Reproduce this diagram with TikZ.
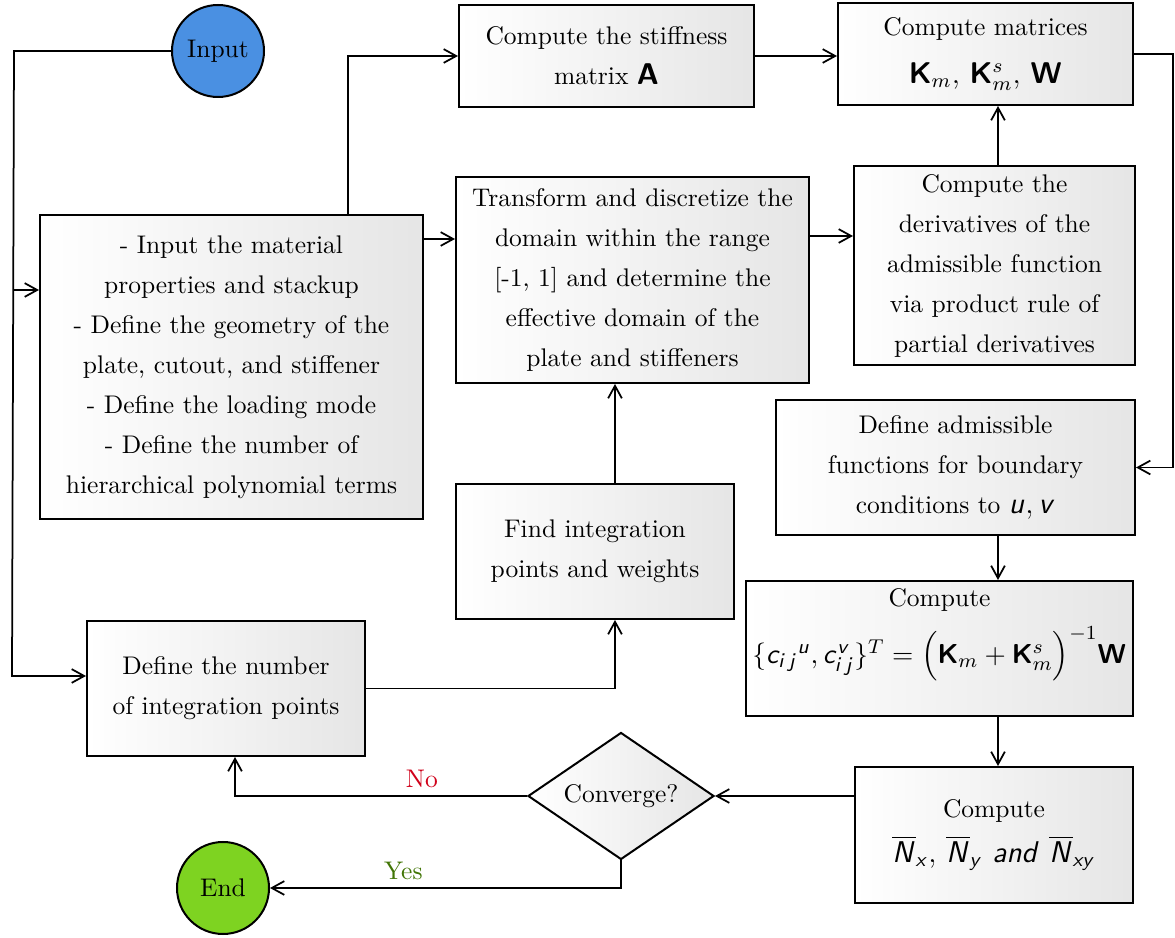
\documentclass[tikz,border=0pt]{standalone}
\usepackage{amsmath,amssymb}
\usepackage{xcolor}
\usepackage{tikz}
\usetikzlibrary{shapes.geometric, arrows.meta, positioning, calc}
\DeclareMathAlphabet{\mathsfit}{OT1}{cmss}{m}{sl}
\DeclareMathAlphabet{\mathsfbf}{OT1}{cmss}{bx}{n}
\definecolor{inblue}{HTML}{4A90E2}
\definecolor{endgreen}{HTML}{7ED321}
\definecolor{nored}{HTML}{D0021B}
\definecolor{yesgreen}{HTML}{417505}
\tikzset{
    process/.style={
        rectangle,
        draw=black,
        thick,
        left color=white,
        right color=gray!20,
        align=center,
        inner sep=2pt,
        font=\fontsize{10.2}{16}\selectfont
    },
    terminal/.style={
        circle,
        draw=black,
        thick,
        minimum size=36.8pt,
        inner sep=0pt,
        font=\fontsize{10.2}{16}\selectfont
    },
    decision/.style={
        diamond,
        draw=black,
        thick,
        left color=white,
        right color=gray!20,
        aspect=1.46,
        minimum width=74.4pt,
        minimum height=50.8pt,
        inner sep=0pt,
        font=\fontsize{10.2}{16}\selectfont
    },
    wire/.style={
        draw=black,
        line width=0.7pt,
        -{Straight Barb[length=5pt,width=5.5pt]}
    },
    edgelabel/.style={
        font=\fontsize{10.2}{14}\selectfont,
        inner sep=2pt
    }
}

\begin{document}
\begin{tikzpicture}[x=0.4pt, y=-0.4pt]
\useasboundingbox (0,0) rectangle (1175,938);

% Start and end
\node[terminal, fill=inblue] (input) at (218,51) {Input};
\node[terminal, fill=endgreen] (finish) at (223,888) {End};

% Top row
\node[process, minimum width=118pt, minimum height=40.8pt] (stiff) at (606.5,56) {Compute the stiffness\\matrix {\large$\mathsfbf{A}$}};
\node[process, minimum width=118pt, minimum height=40.8pt] (mats) at (985.5,54) {Compute matrices\\[3pt]{\large$\mathsfbf{K}_m$, $\mathsfbf{K}_m^s$, $\mathsfbf{W}$}};

% Middle row
\node[process, minimum width=153.2pt, minimum height=121.6pt] (props) at (231.5,367) {- Input the material\\properties and stackup\\- Define the geometry of the\\plate, cutout, and stiffener\\- Define the loading mode\\- Define the number of\\hierarchical polynomial terms};
\node[process, minimum width=141.2pt, minimum height=82.4pt] (domain) at (632.5,280) {Transform and discretize the\\domain within the range\\{[}-1, 1] and determine the\\effective domain of the\\plate and stiffeners};
\node[process, minimum width=112.4pt, minimum height=79.6pt] (deriv) at (994.5,265.5) {Compute the\\derivatives of the\\admissible function\\via product rule of\\partial derivatives};
\node[process, minimum width=143.6pt, minimum height=54pt] (admiss) at (955.5,467.5) {Define admissible\\functions for boundary\\conditions to {\large$\mathsfit{u}, \mathsfit{v}$}};

% Lower rows
\node[process, minimum width=111.2pt, minimum height=54pt] (gauss) at (595,551.5) {Find integration\\points and weights};
\node[process, minimum width=154.8pt, minimum height=54pt] (coeff) at (939.5,648.5) {Compute\\[5pt]{\fontsize{11}{14}\selectfont$\{\mathsfit{c}_{\mathsfit{i\,j}}{}^{\mathsfit{u}}, \mathsfit{c}_{\mathsfit{i\,j}}^{\mathsfit{v}}\}^T = \Bigl(\mathsfbf{K}_m + \mathsfbf{K}_m^s\Bigr)^{-1}\mathsfbf{W}$}\\[2pt]};
\node[process, minimum width=111.2pt, minimum height=54pt] (npts) at (226,688.5) {Define the number\\of integration points};
\node[process, minimum width=111.2pt, minimum height=54.4pt] (loads) at (994,835) {Compute\\[2pt]{\large$\overline{\mathsfit{N}}_{\mathsfit{x}}$, $\overline{\mathsfit{N}}_{\mathsfit{y}}$ $\mathsfit{and}$ $\overline{\mathsfit{N}}_{\mathsfit{xy}}$}};
\node[decision] (conv) at (621,796) {Converge?};

% Helper coordinates
\coordinate (busTop) at (14,51);
\coordinate (busBot) at (12,676);
\coordinate (busMid) at (13,290);
\coordinate (riseA) at (348,55);
\coordinate (colR) at (998,0);
\coordinate (colM) at (615,0);
\coordinate (noUp) at (235,0);

% Left bus
\draw[wire] (input.west) -- (busTop) -- (busBot) -- (npts.west |- busBot);
\draw[wire] (busMid) -- (props.west |- busMid);

% Top connections
\draw[wire] (props.north -| riseA) |- (stiff.west);
\draw[wire] (stiff.east) -- (stiff.east -| mats.west);
\draw[wire] ([yshift=-10pt]props.north east) -- ([yshift=-10pt]props.north east -| domain.west);
\draw[wire] ([yshift=-24pt]domain.north east) -- ([yshift=-24pt]domain.north east -| deriv.west);
\draw[wire] (deriv.north -| colR) -- (mats.south -| colR);
\draw[wire] (mats.east) -- ++(39,0) |- (admiss.east);

% Right column down
\draw[wire] (admiss.south -| colR) -- (coeff.north -| colR);
\draw[wire] (coeff.south -| colR) -- (loads.north -| colR);
\draw[wire] (conv.east -| loads.west) -- (conv.east);

% Loop back
\draw[wire] (conv.west) -| node[edgelabel, pos=0.18, above=1pt, text=nored] {No} (npts.south -| noUp);
\draw[wire] (conv.south) |- node[edgelabel, pos=0.81, above=1pt, text=yesgreen] {Yes} (finish.east);
\draw[wire] (npts.east) -| (gauss.south -| colM);
\draw[wire] (gauss.north -| colM) -- (domain.south -| colM);

\end{tikzpicture}
\end{document}
